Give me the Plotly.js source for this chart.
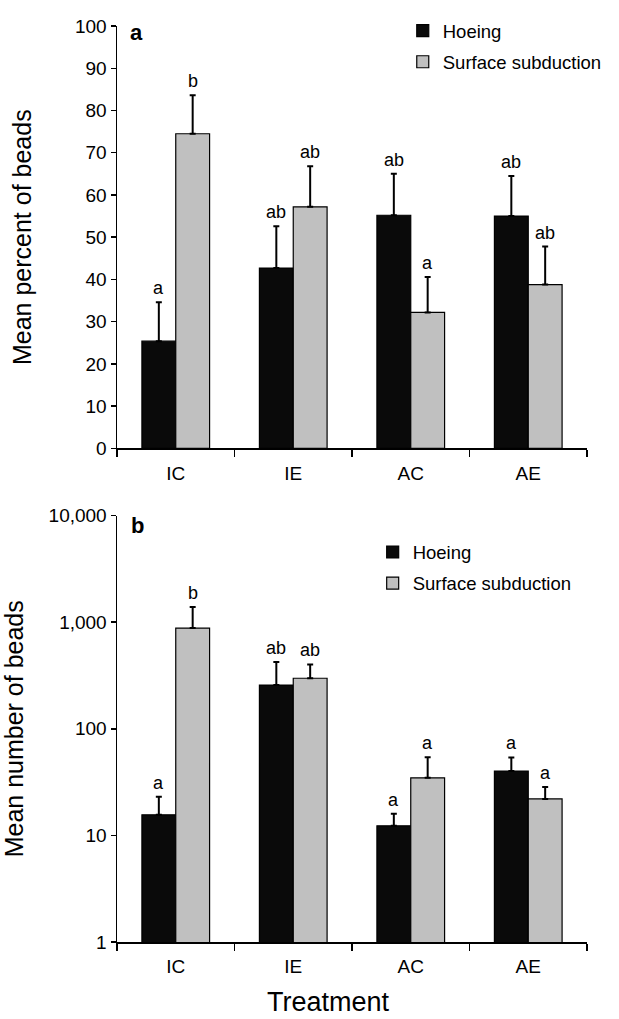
<!DOCTYPE html>
<html>
<head>
<meta charset="utf-8">
<script src="https://cdn.plot.ly/plotly-3.0.1.min.js"></script>
<style>html,body{margin:0;padding:0;background:#fff;}#chart{width:619px;height:1019px;}</style>
</head>
<body>
<div id="chart"></div>
<script>
const categories = ['IC', 'IE', 'AC', 'AE'];
const seriesNames = ['Hoeing', 'Surface subduction'];

// Panel a: mean percent of beads
const pctHoeing = [25.4, 42.7, 55.2, 55.0];
const pctHoeingErr = [9.2, 9.9, 9.8, 9.5];
const pctSurface = [74.5, 57.2, 32.2, 38.8];
const pctSurfaceErr = [9.1, 9.6, 8.4, 9.0];
const pctHoeingLetters = ['a', 'ab', 'ab', 'ab'];
const pctSurfaceLetters = ['b', 'ab', 'a', 'ab'];

// Panel b: mean number of beads (log scale)
const numHoeing = [15.6, 257, 12.3, 40.2];
const numHoeingErr = [7.4, 167, 3.7, 13.7];
const numSurface = [880, 298, 34.7, 22.0];
const numSurfaceErr = [506, 104, 19.5, 6.4];
const numHoeingLetters = ['a', 'ab', 'a', 'a'];
const numSurfaceLetters = ['b', 'ab', 'a', 'a'];

const logTicks = [1, 10, 100, 1000, 10000];

const FONT = 'Liberation Sans, Arial, Helvetica, sans-serif';
const HOE = '#0a0a0a';
const SUR = '#c0c0c0';
const BARGAP = 0.424;
const half = (1 - BARGAP) / 4;

function barTrace(name, vals, errs, color, xa, ya, legend, group) {
  return {
    type: 'bar', name: name, x: categories, y: vals,
    xaxis: xa, yaxis: ya, legend: legend, legendgroup: group,
    marker: {color: color, line: {color: '#000', width: 1.2}},
    error_y: {type: 'data', symmetric: false, array: errs,
      arrayminus: errs.map(() => 0), color: '#000', thickness: 2, width: 3}
  };
}

const traces = [
  barTrace(seriesNames[0], pctHoeing, pctHoeingErr, HOE, 'x', 'y', 'legend', 'h'),
  barTrace(seriesNames[1], pctSurface, pctSurfaceErr, SUR, 'x', 'y', 'legend', 's'),
  barTrace(seriesNames[0], numHoeing, numHoeingErr, HOE, 'x2', 'y2', 'legend2', 'h2'),
  barTrace(seriesNames[1], numSurface, numSurfaceErr, SUR, 'x2', 'y2', 'legend2', 's2')
];

const annotations = [];
function addLetters(letters, vals, errs, sign, xref, yref, isLog) {
  letters.forEach((t, i) => {
    const top = vals[i] + errs[i];
    annotations.push({
      text: t, xref: xref, yref: yref, x: i + sign * half,
      y: isLog ? Math.log10(top) : top,
      xanchor: 'center', yanchor: 'bottom', yshift: 2, showarrow: false,
      font: {family: FONT, size: 18, color: '#000'}
    });
  });
}
addLetters(pctHoeingLetters, pctHoeing, pctHoeingErr, -1, 'x', 'y', false);
addLetters(pctSurfaceLetters, pctSurface, pctSurfaceErr, 1, 'x', 'y', false);
addLetters(numHoeingLetters, numHoeing, numHoeingErr, -1, 'x2', 'y2', true);
addLetters(numSurfaceLetters, numSurface, numSurfaceErr, 1, 'x2', 'y2', true);

annotations.push({text: '<b>a</b>', xref: 'paper', yref: 'paper', x: 0.041, y: 0.9925,
  xanchor: 'center', yanchor: 'middle', showarrow: false, font: {family: FONT, size: 22, color: '#000'}});
annotations.push({text: '<b>b</b>', xref: 'paper', yref: 'paper', x: 0.043, y: 0.455,
  xanchor: 'center', yanchor: 'middle', showarrow: false, font: {family: FONT, size: 22, color: '#000'}});
annotations.push({text: 'Treatment', xref: 'paper', yref: 'paper', x: 0.45, y: -0.066,
  xanchor: 'center', yanchor: 'middle', showarrow: false, font: {family: FONT, size: 27, color: '#000'}});

const xBase = {
  type: 'category', range: [-0.5, 3.5], tickson: 'boundaries',
  ticks: 'outside', ticklen: 7, tickwidth: 1.5, tickcolor: '#000', ticklabelstandoff: 7,
  showline: true, linewidth: 1.5, linecolor: '#000', showgrid: false, zeroline: false,
  tickfont: {family: FONT, size: 19, color: '#000'}, fixedrange: true
};
const yBase = {
  ticks: 'outside', ticklen: 5, tickwidth: 1.5, tickcolor: '#000',
  showline: true, linewidth: 1.5, linecolor: '#000', showgrid: false, zeroline: false,
  tickfont: {family: FONT, size: 19, color: '#000'}, fixedrange: true
};

const layout = {
  width: 619, height: 1019,
  margin: {l: 117, r: 17, t: 14, b: 77},
  paper_bgcolor: '#fff', plot_bgcolor: '#fff',
  font: {family: FONT, color: '#000'},
  barmode: 'group', bargap: BARGAP, bargroupgap: 0,
  showlegend: true,
  xaxis: Object.assign({}, xBase, {domain: [0, 1], anchor: 'y'}),
  yaxis: Object.assign({}, yBase, {domain: [0.5388, 1], anchor: 'x', range: [0, 100], dtick: 10,
    title: {text: 'Mean percent of beads', font: {family: FONT, size: 25, color: '#000'}, standoff: 36}}),
  xaxis2: Object.assign({}, xBase, {domain: [0, 1], anchor: 'y2'}),
  yaxis2: Object.assign({}, yBase, {domain: [0, 0.4655], anchor: 'x2', type: 'log', range: [0, 4],
    tickvals: logTicks, tickformat: ',',
    title: {text: 'Mean number of beads', font: {family: FONT, size: 25, color: '#000'}, standoff: 24}}),
  legend: {x: 0.608, y: 1.0151, xanchor: 'left', yanchor: 'top', bgcolor: 'rgba(0,0,0,0)',
    font: {family: FONT, size: 18.5, color: '#000'}, tracegroupgap: 4, traceorder: 'grouped'},
  legend2: {x: 0.544, y: 0.446, xanchor: 'left', yanchor: 'top', bgcolor: 'rgba(0,0,0,0)',
    font: {family: FONT, size: 18.5, color: '#000'}, tracegroupgap: 4, traceorder: 'grouped'},
  annotations: annotations
};

Plotly.newPlot('chart', traces, layout, {displayModeBar: false, staticPlot: true});
</script>
</body>
</html>
